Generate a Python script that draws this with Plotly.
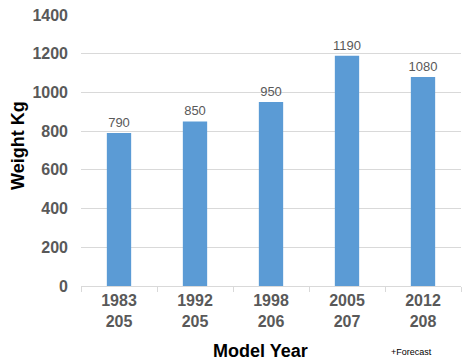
import plotly.graph_objects as go

years = ["1983", "1992", "1998", "2005", "2012"]
codes = ["205", "205", "206", "207", "208"]
weights = [790, 850, 950, 1190, 1080]
y_ticks = [0, 200, 400, 600, 800, 1000, 1200, 1400]

cats = [f"{y}<br>{c}" for y, c in zip(years, codes)]

FONT = "Liberation Sans, Arial"
L, R, T, B = 81, 8, 15, 76
PW, PH = 469 - L - R, 362 - T - B

def px(x):
    return (x - L) / PW

def py(y):
    return (362 - B - y) / PH

fig = go.Figure(go.Bar(
    x=cats, y=weights,
    marker=dict(color="#5B9BD5", line=dict(width=0)),
    text=[str(w) for w in weights], textposition="outside",
    constraintext="none",
    textfont=dict(family=FONT, size=13, color="#595959"),
    cliponaxis=False,
))

fig.update_layout(
    width=469, height=362,
    margin=dict(l=L, r=R, t=T, b=B),
    paper_bgcolor="white", plot_bgcolor="white",
    bargap=0.68,
    showlegend=False,
    font=dict(family=FONT, color="#595959"),
    xaxis=dict(
        showgrid=False, showline=True, linecolor="#D9D9D9", linewidth=1,
        ticks="outside", tickcolor="#D9D9D9", ticklen=5, tickson="boundaries",
        tickfont=dict(size=16, color="#595959", family=FONT, weight="bold"),
    ),
    yaxis=dict(
        range=[0, 1400], tickvals=y_ticks,
        showgrid=True, gridcolor="#D9D9D9", gridwidth=1,
        zeroline=False, showline=False, ticks="", ticklabelstandoff=12,
        tickfont=dict(size=16, color="#595959", family=FONT, weight="bold"),
    ),
    annotations=[
        dict(text="Model Year", xref="paper", yref="paper", showarrow=False,
             x=px(260), y=py(351), xanchor="center", yanchor="middle",
             font=dict(size=18, color="#000000", family=FONT, weight="bold")),
        dict(text="Weight Kg", xref="paper", yref="paper", showarrow=False,
             x=px(18), y=py(146), xanchor="center", yanchor="middle", textangle=-90,
             font=dict(size=18, color="#000000", family=FONT, weight="bold")),
        dict(text="+Forecast", xref="paper", yref="paper", showarrow=False,
             x=px(411), y=py(352), xanchor="center", yanchor="middle",
             font=dict(size=9, color="#000000", family=FONT)),
    ],
)

fig.write_html("out.html")
